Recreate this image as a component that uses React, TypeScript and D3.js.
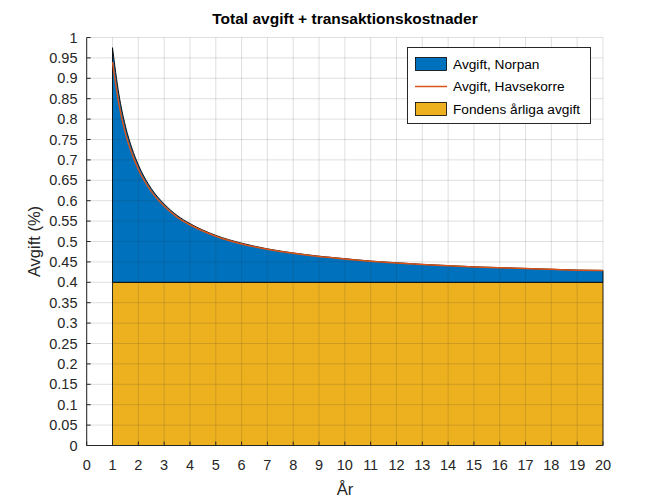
import React from "react";
import * as d3 from "d3";

const years = [1, 1.25, 1.5, 1.75, 2, 2.5, 3, 3.5, 4, 5, 6, 7, 8, 9, 10, 11, 12, 13, 14, 15, 16, 17, 18, 19, 20];
const norpan = [0.975, 0.86, 0.783, 0.729, 0.688, 0.63, 0.592, 0.564, 0.544, 0.515, 0.496, 0.482, 0.472, 0.464, 0.458, 0.452, 0.448, 0.444, 0.441, 0.438, 0.436, 0.434, 0.432, 0.43, 0.429];
const havsekorre = [0.94, 0.836, 0.765, 0.716, 0.677, 0.623, 0.587, 0.56, 0.541, 0.513, 0.494, 0.481, 0.471, 0.463, 0.457, 0.4515, 0.4475, 0.4435, 0.4405, 0.4377, 0.4357, 0.4337, 0.4318, 0.4298, 0.4288];
const baseFee = [0.4, 0.4, 0.4, 0.4, 0.4, 0.4, 0.4, 0.4, 0.4, 0.4, 0.4, 0.4, 0.4, 0.4, 0.4, 0.4, 0.4, 0.4, 0.4, 0.4, 0.4, 0.4, 0.4, 0.4, 0.4];
const xTicks = d3.range(0, 21, 1);
const yTicks = d3.range(0, 21, 1).map((i) => i / 20);
const yTickLabels = ["0", "0.05", "0.1", "0.15", "0.2", "0.25", "0.3", "0.35", "0.4", "0.45", "0.5", "0.55", "0.6", "0.65", "0.7", "0.75", "0.8", "0.85", "0.9", "0.95", "1"];
const legendLabels = ["Avgift, Norpan", "Avgift, Havsekorre", "Fondens årliga avgift"];
const title = "Total avgift + transaktionskostnader";
const xLabel = "År";
const yLabel = "Avgift (%)";

const BLUE = "#0072BD";
const ORANGE = "#D95319";
const YELLOW = "#EDB120";
const AXIS = "#262626";
const FONT = "'Liberation Sans', Arial, Helvetica, sans-serif";

export default function App() {
  const x = d3.scaleLinear().domain([0, 20]).range([86.7, 603]);
  const y = d3.scaleLinear().domain([0, 1]).range([445.5, 37.5]);
  const idx = d3.range(years.length);

  const baseArea = d3
    .area<number>()
    .x((i) => x(years[i]))
    .y0(() => y(0))
    .y1((i) => y(baseFee[i]))(idx) as string;
  const norpanArea = d3
    .area<number>()
    .curve(d3.curveMonotoneX)
    .x((i) => x(years[i]))
    .y0((i) => y(baseFee[i]))
    .y1((i) => y(norpan[i]))(idx) as string;
  const havLine = d3
    .line<number>()
    .curve(d3.curveMonotoneX)
    .x((i) => x(years[i]))
    .y((i) => y(havsekorre[i]))(idx) as string;

  const [x0, x1] = x.range();
  const [yb, yt] = y.range();

  const lx = 407.5;
  const ly = 47.5;
  const lw = 183;
  const lh = 76;
  const rowY = [64, 86.5, 109];

  return (
    <svg width={666} height={500} style={{ position: "absolute", left: 0, top: 0, background: "#fff" }} fontFamily={FONT}>
      <rect width={666} height={500} fill="#fff" />
      {/* fills */}
      <path d={baseArea} fill={YELLOW} stroke="#000" strokeWidth={0.8} />
      <path d={norpanArea} fill={BLUE} stroke="#000" strokeWidth={0.9} />
      {/* grid */}
      <g stroke={AXIS} strokeOpacity={0.15} strokeWidth={1}>
        {xTicks.map((t) => (
          <line key={"gx" + t} x1={x(t)} x2={x(t)} y1={yb} y2={yt} />
        ))}
        {yTicks.map((t) => (
          <line key={"gy" + t} x1={x0} x2={x1} y1={y(t)} y2={y(t)} />
        ))}
      </g>
      <path d={havLine} fill="none" stroke={ORANGE} strokeWidth={1.5} />
      {/* axes */}
      <g stroke={AXIS} strokeWidth={1}>
        <line x1={x0} x2={x0} y1={yb} y2={yt} />
        <line x1={x0} x2={x1} y1={yb} y2={yb} />
        {xTicks.map((t) => (
          <line key={"tx" + t} x1={x(t)} x2={x(t)} y1={yb} y2={yb - 4} />
        ))}
        {yTicks.map((t) => (
          <line key={"ty" + t} x1={x0} x2={x0 + 4} y1={y(t)} y2={y(t)} />
        ))}
      </g>
      <g fill={AXIS} fontSize={14.5}>
        {xTicks.map((t) => (
          <text key={"lx" + t} x={x(t)} y={470} textAnchor="middle">
            {String(t)}
          </text>
        ))}
        {yTicks.map((t, i) => (
          <text key={"ly" + t} x={77.5} y={y(t)} dy="0.35em" textAnchor="end">
            {yTickLabels[i]}
          </text>
        ))}
      </g>
      <text x={345} y={24} textAnchor="middle" fontSize={15.5} fontWeight="bold" fill="#000">
        {title}
      </text>
      <text x={345} y={495} textAnchor="middle" fontSize={16.5} fill={AXIS}>
        {xLabel}
      </text>
      <text transform={`translate(40,${(yb + yt) / 2}) rotate(-90)`} textAnchor="middle" fontSize={16.5} fill={AXIS}>
        {yLabel}
      </text>
      {/* legend */}
      <g>
        <rect x={lx} y={ly} width={lw} height={lh} fill="#fff" stroke={AXIS} strokeWidth={1} />
        <rect x={415.5} y={rowY[0] - 6.5} width={31} height={13} fill={BLUE} stroke="#000" strokeWidth={0.8} />
        <line x1={415} x2={447} y1={rowY[1]} y2={rowY[1]} stroke={ORANGE} strokeWidth={1.5} />
        <rect x={415.5} y={rowY[2] - 6.5} width={31} height={13} fill={YELLOW} stroke="#000" strokeWidth={0.8} />
        {legendLabels.map((l, i) => (
          <text key={l} x={453} y={rowY[i]} dy="0.35em" fontSize={13.7} fill="#000">
            {l}
          </text>
        ))}
      </g>
    </svg>
  );
}
